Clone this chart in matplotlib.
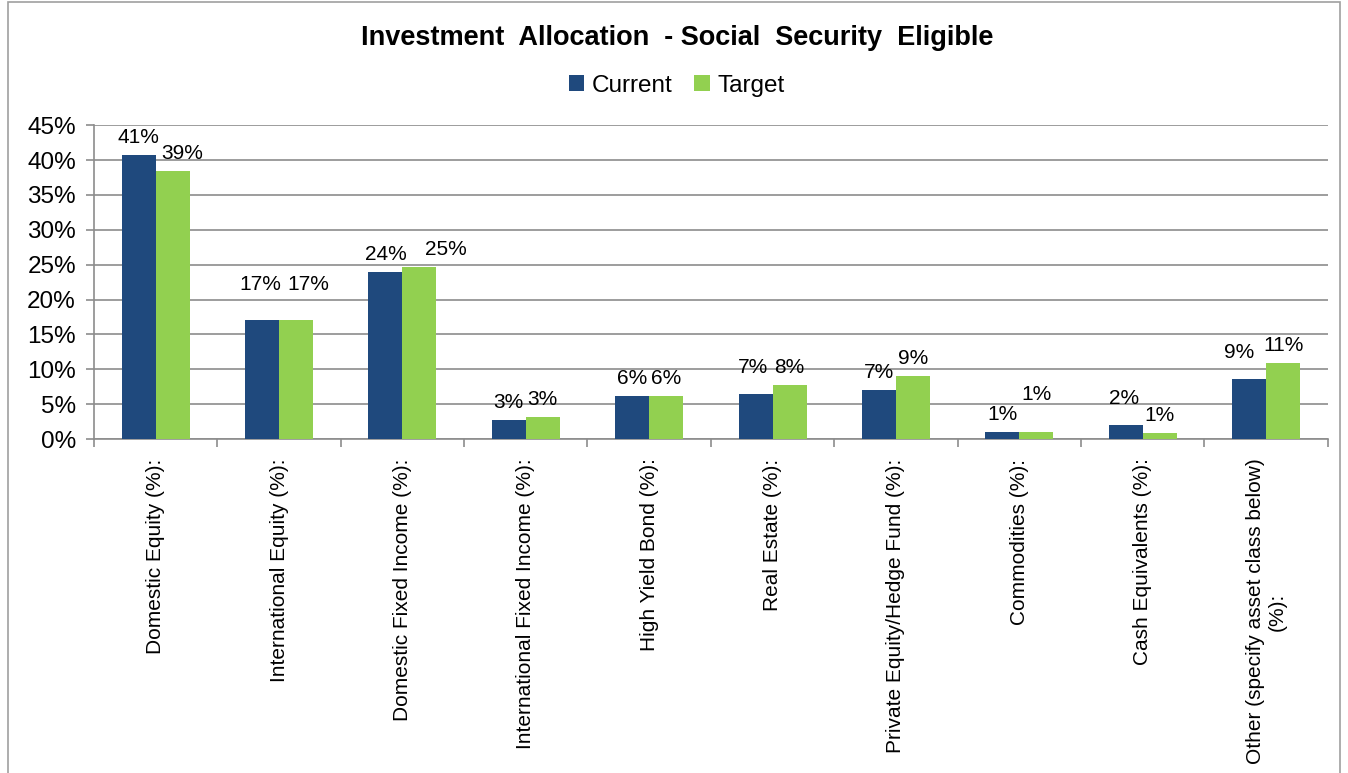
import numpy as np
from matplotlib import pyplot as plt
from matplotlib.patches import Rectangle

plt.rcParams['font.family'] = ['Liberation Sans', 'DejaVu Sans']

categories = ['Domestic Equity (%):', 'International Equity (%):',
              'Domestic Fixed Income (%):', 'International Fixed Income (%):',
              'High Yield Bond (%):', 'Real Estate (%):',
              'Private Equity/Hedge Fund (%):', 'Commodities (%):',
              'Cash Equivalents (%):', 'Other (specify asset class below)\n(%):']
current = [40.8, 17.1, 23.9, 2.7, 6.2, 6.4, 7.0, 1.0, 2.0, 8.6]
target = [38.5, 17.1, 24.6, 3.1, 6.2, 7.7, 9.0, 1.0, 0.9, 10.9]
current_labels = ['41%', '17%', '24%', '3%', '6%', '7%', '7%', '1%', '2%', '9%']
target_labels = ['39%', '17%', '25%', '3%', '6%', '8%', '9%', '1%', '1%', '11%']

# Excel nudged a few labels (pixels: dx, extra lift)
current_nudge = [(0, 0), (-2, 18), (0, 0), (0, 0), (0, 0), (-3, 9), (0, 0), (0, 0), (-2, 9), (-10, 9)]
target_nudge = [(10, 0), (12, 18), (26, 0), (0, 0), (0, 0), (0, 0), (0, 0), (0, 20), (0, 0), (0, 0)]

dark_blue = '#1F497D'
green = '#92D050'

fig = plt.figure(figsize=(13.48, 7.73), dpi=100)
fig.patches.append(Rectangle((0.006, -0.01), 0.988, 1.007, transform=fig.transFigure,
                             fill=False, edgecolor='#a0a0a0', linewidth=1.2))
ax = fig.add_axes([0.0697, 0.432, 0.9153, 0.406])

x = np.arange(len(categories))
w = 0.276
b1 = ax.bar(x - w / 2, current, w, color=dark_blue, label='Current', zorder=3)
b2 = ax.bar(x + w / 2, target, w, color=green, label='Target', zorder=3)

for bars, labels, nudge in [(b1, current_labels, current_nudge), (b2, target_labels, target_nudge)]:
    for rect, lab, (dx, dy) in zip(bars, labels, nudge):
        ax.annotate(lab, (rect.get_x() + rect.get_width() / 2, rect.get_height()),
                    xytext=(dx, 8 + dy), textcoords='offset pixels',
                    ha='center', va='bottom', fontsize=15, color='black')

ax.set_xlim(-0.5, len(categories) - 0.5)
ax.set_ylim(0, 45)
ax.set_yticks(np.arange(0, 46, 5))
ax.set_yticklabels(['%d%%' % v for v in range(0, 46, 5)], fontsize=17.5)
ax.yaxis.grid(True, color='#8c8c8c', linewidth=1.2, zorder=0)
ax.set_axisbelow(True)

ax.set_xticks(x)
ax.set_xticklabels(categories, rotation=90, fontsize=15, va='top', ha='center',
                   multialignment='center')
ax.tick_params(axis='x', which='major', length=0, pad=14)
ax.set_xticks(np.arange(-0.5, len(categories), 1), minor=True)
ax.tick_params(axis='x', which='minor', length=6, color='#8c8c8c', width=1.2)
ax.tick_params(axis='y', length=6, color='#8c8c8c', width=1.2, pad=7)

for s in ['top', 'right']:
    ax.spines[s].set_visible(False)
for s in ['left', 'bottom']:
    ax.spines[s].set_color('#8c8c8c')
    ax.spines[s].set_linewidth(1.2)

fig.text(0.502, 0.951, 'Investment  Allocation  - Social  Security  Eligible',
         ha='center', va='center', fontsize=19.5, fontweight='bold')
fig.legend(handles=[b1, b2], loc='center', bbox_to_anchor=(0.502, 0.889), ncol=2,
           frameon=False, fontsize=17.5, handlelength=0.65, handleheight=0.65,
           handletextpad=0.3, columnspacing=0.9)

plt.savefig('out.png', dpi=100)
